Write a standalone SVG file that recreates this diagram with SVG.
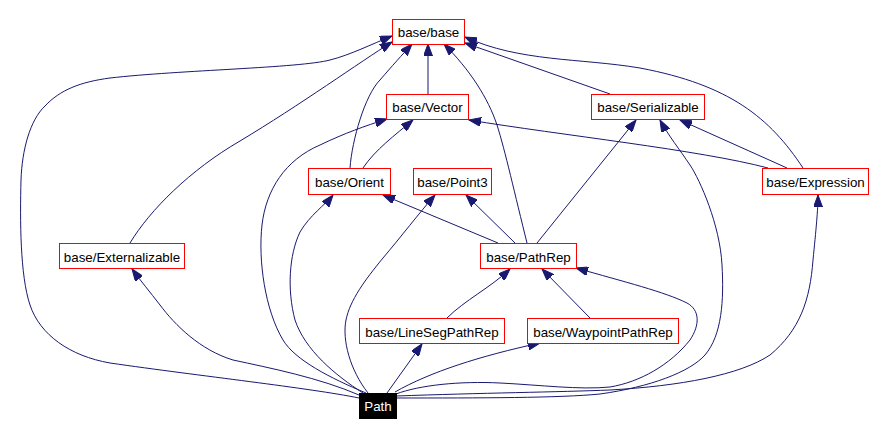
<svg xmlns="http://www.w3.org/2000/svg" width="875" height="446" viewBox="0 0 875 446">
<style>
.n rect{fill:#fff;stroke:#ff0000;stroke-width:1}
.n text{font-family:"Liberation Sans",Arial,sans-serif;font-size:13.33px;fill:#000;text-anchor:middle}
#path rect{fill:#000;stroke:#000}
#path text{fill:#fff}
.e path{fill:none;stroke:#191970;stroke-width:1;marker-end:url(#ah)}
</style>
<defs>
<marker id="ah" markerUnits="userSpaceOnUse" markerWidth="13" markerHeight="9" refX="12" refY="4.5" orient="auto" viewBox="0 0 13 9">
<path d="M0,0 L12,4.5 L0,9 z" fill="#191970" stroke="#191970" stroke-width="1"/>
</marker>
</defs>
<rect width="875" height="446" fill="#fff"/>
<g class="e" id="edges">
<path d="M428,94 L428,44"/>
<path d="M610,94 L465,43"/>
<path d="M803,168 C770,118 730,85 640,68 C580,58 520,62 465,37"/>
<path d="M359,398 C310,388 200,376 110,363 C70,356 40,335 30,305 C20,275 20,220 21,180 C22,150 30,120 45,106 C60,90 80,82 110,78 C180,70 300,68 330,60 C350,55 372,44 392,36"/>
<path d="M130,243 C150,210 190,170 240,141 C300,105 360,62 392,42"/>
<path d="M350,168 C352,140 365,95 380,80 C392,66 402,55 412,44"/>
<path d="M527,243 C515,195 505,150 497,125 C488,98 470,70 444,44"/>
<path d="M363,168 C375,150 395,135 413,120"/>
<path d="M366,393 C330,378 295,360 283,340 C265,310 258,260 262,225 C266,190 285,160 320,145 C345,133 365,126 387,119"/>
<path d="M768,168 C700,150 560,135 469,120"/>
<path d="M787,168 L680,120"/>
<path d="M537,243 L636,120"/>
<path d="M396,398 C480,398 560,398 600,394 C650,387 690,372 705,355 C722,335 724,300 722,265 C720,225 700,180 690,165 C680,150 668,135 660,120"/>
<path d="M396,396 C480,393 560,392 610,390 C680,386 740,375 770,355 C800,330 810,300 813,260 C816,230 818,210 818,195"/>
<path d="M396,394 C420,385 460,381 500,383 C540,385 580,390 610,387 C640,382 670,365 690,340 C700,325 700,310 687,303 C665,292 625,282 576,268"/>
<path d="M498,243 L383,195"/>
<path d="M515,243 L466,195"/>
<path d="M363,393 C335,375 305,350 295,320 C287,290 289,255 300,232 C310,215 325,205 333,195"/>
<path d="M368,393 C350,370 342,340 346,320 C350,300 365,280 383,258 C400,238 420,212 435,195"/>
<path d="M447,318 C465,300 490,288 510,269"/>
<path d="M590,318 L542,269"/>
<path d="M395,392 C430,372 480,356 540,343"/>
<path d="M387,393 L422,344"/>
<path d="M359,395 C320,378 270,368 233,360 C200,350 175,325 160,305 C150,292 140,280 132,269"/>
</g>
<g class="n" id="base-base"><rect x="392.5" y="19.5" width="72" height="25"/><text x="428.5" y="37">base/base</text></g>
<g class="n" id="base-vector"><rect x="386.5" y="94.5" width="82" height="25"/><text x="427.5" y="112">base/Vector</text></g>
<g class="n" id="base-serializable"><rect x="591.5" y="94.5" width="113" height="25"/><text x="648" y="112">base/Serializable</text></g>
<g class="n" id="base-orient"><rect x="308.5" y="168.5" width="82" height="26"/><text x="349.5" y="186.5">base/Orient</text></g>
<g class="n" id="base-point3"><rect x="413.5" y="168.5" width="78" height="26"/><text x="452.5" y="186.5">base/Point3</text></g>
<g class="n" id="base-expression"><rect x="762.5" y="168.5" width="106" height="26"/><text x="815.5" y="186.5">base/Expression</text></g>
<g class="n" id="base-externalizable"><rect x="59.5" y="243.5" width="125" height="25"/><text x="122" y="261.5">base/Externalizable</text></g>
<g class="n" id="base-pathrep"><rect x="480.5" y="243.5" width="96" height="25"/><text x="528.5" y="261.5">base/PathRep</text></g>
<g class="n" id="base-linesegpathrep"><rect x="359.5" y="318.5" width="145" height="25"/><text x="432" y="336.5">base/LineSegPathRep</text></g>
<g class="n" id="base-waypointpathrep"><rect x="527.5" y="318.5" width="151" height="25"/><text x="603" y="336.5">base/WaypointPathRep</text></g>
<g class="n" id="path"><rect x="359.5" y="393.5" width="37" height="25"/><text x="378" y="411">Path</text></g>
</svg>
